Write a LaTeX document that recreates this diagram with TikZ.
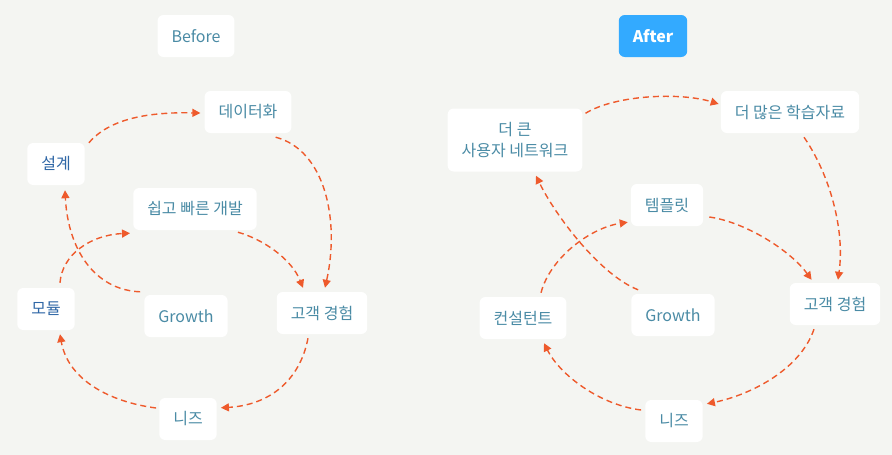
\documentclass[tikz,border=0pt]{standalone}
\usepackage{fontspec}
\newfontfamily\kr{Noto Sans CJK KR}
\usetikzlibrary{arrows.meta}

\definecolor{bgcol}{HTML}{F4F5F2}
\definecolor{labtxt}{HTML}{4A8BA5}
\definecolor{keytxt}{HTML}{2F67A6}
\definecolor{flowcol}{HTML}{EE5A2C}
\definecolor{aftercol}{HTML}{33AAFF}

\tikzset{
  card/.style={fill=white, rounded corners=6pt, inner xsep=14pt, inner ysep=0pt,
    minimum height=42pt, align=center, text=labtxt,
    font=\kr\fontsize{16}{21}\selectfont},
  keycard/.style={card, text=keytxt},
  flow/.style={draw=flowcol, line width=1.4pt, dash pattern=on 6pt off 4pt,
    -{Triangle[length=8pt,width=8pt]}},
}

\begin{document}
\begin{tikzpicture}[x=1pt, y=-1pt]
  % canvas in pixel units, y downwards
  \fill[bgcol] (0,0) rectangle (892,455);

  % before
  \node[card] (before) at (196,36) {Before};
  \node[card] (dt) at (248,112) {데이터화};
  \node[keycard] (sg) at (56,164) {설계};
  \node[card] (kb) at (195,209) {쉽고 빠른 개발};
  \node[keycard] (md) at (46,309) {모듈};
  \node[card] (gw) at (186,316) {Growth};
  \node[card] (ce) at (322,313) {고객 경험};
  \node[card] (nz) at (188,419) {니즈};

  \draw[flow] ([shift={(4,0)}]sg.north east) .. controls (110,118) and (150,112) .. ([shift={(-4,1)}]dt.west);
  \draw[flow] ([shift={(-16,4)}]dt.south east) .. controls (325,150) and (340,220) .. ([shift={(3,-4)}]ce.north);
  \draw[flow] ([shift={(-19,2)}]kb.south east) .. controls (265,240) and (292,260) .. ([shift={(-19,-4)}]ce.north);
  \draw[flow] ([shift={(-4,-3)}]gw.north west) .. controls (95,290) and (68,250) .. ([shift={(9,5)}]sg.south);
  \draw[flow] ([shift={(14,-5)}]md.north) .. controls (62,255) and (90,235) .. ([shift={(-3,3)}]kb.south west);
  \draw[flow] ([shift={(-14,4)}]ce.south) .. controls (300,380) and (270,405) .. ([shift={(4,10)}]nz.north east);
  \draw[flow] ([shift={(-3,-11)}]nz.west) .. controls (110,402) and (68,380) .. ([shift={(14,4)}]md.south);

  % after
  \node[card, fill=aftercol, text=white, font=\kr\bfseries\fontsize{16}{21}\selectfont] (after) at (653,36) {After};
  \node[card, minimum height=63pt] (nt) at (515,140) {더 큰\\사용자 네트워크};
  \node[card] (hs) at (790,112) {더 많은 학습자료};
  \node[card] (tp) at (667,205) {템플릿};
  \node[card] (cs) at (523,318) {컨설턴트};
  \node[card] (gw2) at (673,315) {Growth};
  \node[card] (ce2) at (835,304) {고객 경험};
  \node[card] (nz2) at (674,421) {니즈};

  \draw[flow] ([shift={(3,5)}]nt.north east) .. controls (615,95) and (680,92) .. ([shift={(-2,-8)}]hs.west);
  \draw[flow] ([shift={(14,4)}]hs.south) .. controls (830,175) and (845,230) .. ([shift={(3,-3)}]ce2.north);
  \draw[flow] ([shift={(6,12)}]tp.east) .. controls (745,222) and (790,250) .. ([shift={(22,-3)}]ce2.north west);
  \draw[flow] ([shift={(7,-4)}]gw2.north west) .. controls (600,275) and (555,215) .. ([shift={(21,4)}]nt.south);
  \draw[flow] ([shift={(18,-4)}]cs.north) .. controls (550,258) and (590,228) .. ([shift={(-3,-4)}]tp.south west);
  \draw[flow] ([shift={(-21,4)}]ce2.south) .. controls (800,370) and (750,395) .. ([shift={(4,4)}]nz2.north east);
  \draw[flow] ([shift={(-4,-11)}]nz2.west) .. controls (600,405) and (560,375) .. ([shift={(21,4)}]cs.south);
\end{tikzpicture}
\end{document}
